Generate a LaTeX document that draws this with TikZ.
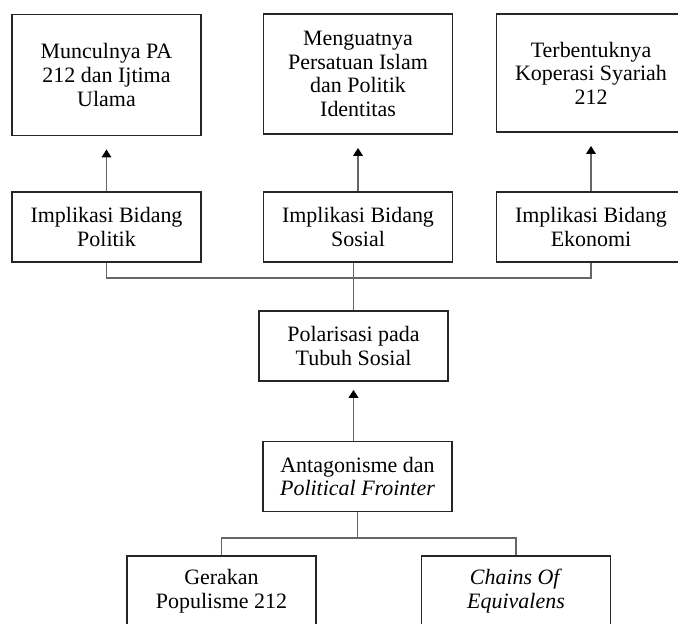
\documentclass[tikz,border=0pt]{standalone}
\usepackage{fontspec}
\setmainfont{Liberation Serif}
\usetikzlibrary{arrows.meta}

\begin{document}
\begin{tikzpicture}[x=0.02cm, y=-0.02cm,
  box/.style={draw=black!85, line width=1.1pt, align=center, inner sep=0pt,
    font=\fontsize{12.5}{13.4}\selectfont, minimum width=3.78cm, minimum height=1.4cm,
    execute at begin node=\rule{0pt}{13.5pt}},
  tall/.style={box, minimum height=2.42cm},
  link/.style={draw=black!60, line width=0.7pt},
  arr/.style={link, -{Triangle[length=4.5pt,width=5.5pt,color=black]}}]
\useasboundingbox (0,0) rectangle (678,623);

\node[tall] (muncul) at (106.5,75) {Munculnya PA\\212 dan Ijtima\\Ulama};
\node[tall, minimum height=2.4cm] (menguat) at (358,74) {Menguatnya\\Persatuan Islam\\dan Politik\\Identitas};
\node[tall, minimum height=2.36cm] (koperasi) at (591,73) {Terbentuknya\\Koperasi Syariah\\212};

\node[box] (politik) at (106.5,227) {Implikasi Bidang\\Politik};
\node[box] (sosial) at (358,227) {Implikasi Bidang\\Sosial};
\node[box] (ekonomi) at (591,227) {Implikasi Bidang\\Ekonomi};

\node[box] (polarisasi) at (353.5,346) {Polarisasi pada\\Tubuh Sosial};
\node[box] (antagonisme) at (357.5,476.5) {Antagonisme dan\\\textit{Political Frointer}};

\node[box] (gerakan) at (221.5,591) {Gerakan\\Populisme 212};
\node[box] (chains) at (516,591) {\textit{Chains Of}\\\textit{Equivalens}};

\draw[arr, shorten >=7.4pt] (politik) -- (muncul);
\draw[arr, shorten >=7.4pt] (sosial) -- (menguat);
\draw[arr, shorten >=7.4pt] (ekonomi) -- (koperasi);

\coordinate (bus) at (353.5,278);
\draw[link] (politik.south) |- (bus) -| (ekonomi.south);
\draw[link] (polarisasi.north) -- (polarisasi.north |- sosial.south);
\draw[arr, shorten >=4.5pt] (antagonisme.north -| polarisasi.south) -- (polarisasi.south);

\coordinate (split) at (357.5,538);
\draw[link] (antagonisme.south) -- (split);
\draw[link] (gerakan.north) |- (split) -| (chains.north);
\end{tikzpicture}
\end{document}
